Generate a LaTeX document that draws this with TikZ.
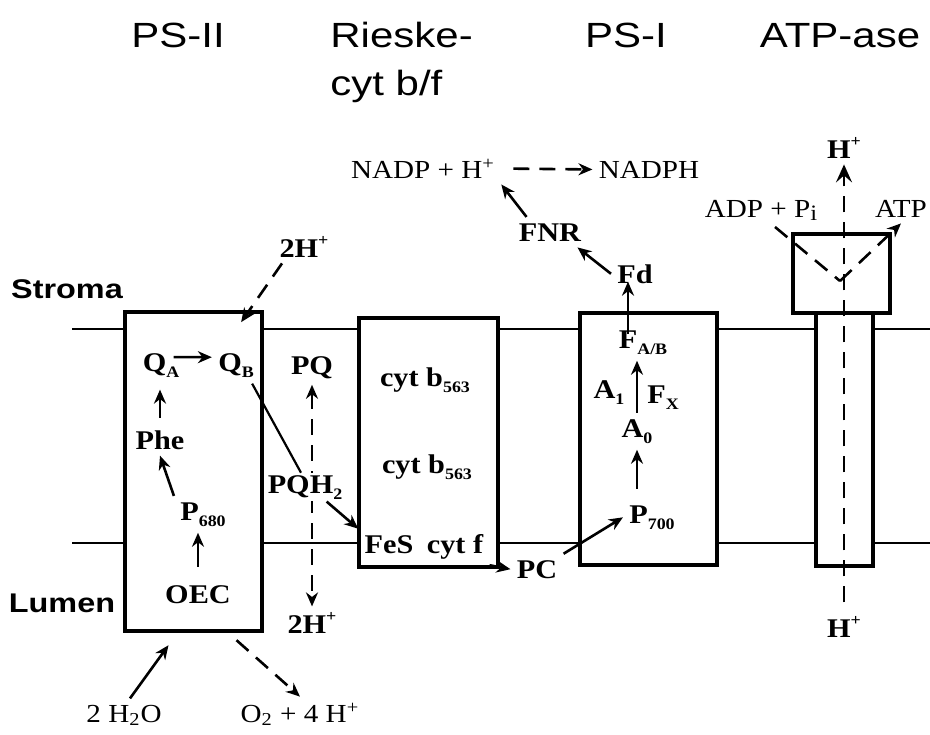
\documentclass[tikz,border=0pt]{standalone}
\usepackage{fontspec}
\setmainfont[FakeStretch=1.12]{Liberation Serif}
\newfontfamily\hdfont[FakeStretch=1.2]{Liberation Sans}
\usetikzlibrary{arrows.meta,positioning,calc}
\newcommand\lo[1]{\raisebox{-0.5ex}{\fontsize{8}{9}\selectfont#1}}
\newcommand\hi[1]{\raisebox{0.9ex}{\fontsize{8}{9}\selectfont#1}}

\begin{document}
\begin{tikzpicture}[x=0.5pt,y=-0.5pt]
  \tikzset{
    mem/.style={black, line width=1pt},
    cplx/.style={draw=black, fill=white, line width=2.2pt, inner sep=0pt},
    lbl/.style={font=\fontsize{13.5}{16}\selectfont\bfseries, inner sep=3pt, anchor=base},
    chem/.style={font=\fontsize{13}{15}\selectfont, inner sep=3pt, anchor=base},
    head/.style={font=\hdfont\fontsize{17.5}{20}\selectfont, inner sep=0pt, anchor=base},
    zone/.style={font=\hdfont\bfseries\fontsize{13.5}{16}\selectfont, inner sep=0pt, anchor=base},
    arr/.style={-{Stealth[length=7pt,width=6pt]}, line width=1.3pt},
    darr/.style={arr, dash pattern=on 8pt off 5pt},
    dline/.style={line width=1.3pt, dash pattern=on 8pt off 5pt},
    pline/.style={line width=1.1pt}
  }
  \useasboundingbox (0,0) rectangle (930,734);

  % membrane
  \coordinate (sl) at (72,329); \coordinate (sr) at (930,329);
  \coordinate (ll) at (72,543); \coordinate (lr) at (930,543);
  \draw[mem] (sl) -- (sr);
  \draw[mem] (ll) -- (lr);

  % complexes
  \node[cplx, minimum width=68.5pt, minimum height=159.5pt] (psii) at (193.5,471.5) {};
  \node[cplx, minimum width=69.5pt, minimum height=124.5pt] (cytbf) at (428.5,442.5) {};
  \node[cplx, minimum width=68.5pt, minimum height=126pt] (psi) at (648.5,439) {};
  \node[cplx, minimum width=28.5pt, minimum height=126.5pt] (fo) at (844.5,439.5) {};
  \node[cplx, minimum width=48.5pt, minimum height=39.5pt] (fone) at (841.5,273.5) {};

  % headings
  \node[head] (hps2) at (178,47) {PS-II};
  \node[head, anchor=base west] (hrieske) at (330,47) {Rieske-};
  \node[head, anchor=base west] (hcyt) at (330,95) {cyt b/f};
  \node[head] (hps1) at (626,47) {PS-I};
  \node[head] (hatp) at (840,47) {ATP-ase};
  \node[zone] (stroma) at (67,298) {Stroma};
  \node[zone] (lumen) at (62,612) {Lumen};

  % PS-II
  \node[lbl] (qa) at (161,371) {Q\lo{A}};
  \node[lbl] (qb) at (236,371) {Q\lo{B}};
  \node[lbl] (phe) at (160,449) {Phe};
  \node[lbl] (p680) at (203,520) {P\lo{680}};
  \node[lbl] (oec) at (198,603) {OEC};
  \node[lbl] (htop) at (304,257) {2H\hi{+}};
  \node[chem] (h2o) at (124,722) {2 H\textsubscript{2}O};
  \node[chem] (otwo) at (300,722) {O\textsubscript{2} + 4 H\textsuperscript{+}};

  % plastoquinone pool
  \node[lbl] (pq) at (312,374) {PQ};
  \node[lbl] (hbot) at (312,633) {2H\hi{+}};
  \draw[darr, {Stealth[length=7pt,width=6pt]}-{Stealth[length=7pt,width=6pt]}] (pq) -- (hbot);
  \node[lbl, fill=white, inner sep=1pt] (pqh) at (305,493) {PQH\lo{2}};

  % cyt b/f
  \node[lbl] (cb1) at (425,386) {cyt b\lo{563}};
  \node[lbl] (cb2) at (427,473) {cyt b\lo{563}};
  \node[lbl] (fes) at (389,553) {FeS};
  \node[lbl] (cytf) at (455,553) {cyt f};
  \node[lbl] (pc) at (537,578) {PC};

  % PS-I
  \node[lbl] (p700) at (652,523) {P\lo{700}};
  \node[lbl] (azero) at (637,437) {A\lo{0}};
  \node[lbl] (aone) at (609,398) {A\lo{1}};
  \node[lbl] (fx) at (663,403) {F\lo{X}};
  \node[lbl] (fab) at (643,348) {F\lo{A/B}};
  \node[lbl] (fd) at (635,283) {Fd};
  \node[lbl] (fnr) at (550,241) {FNR};
  \node[chem] (nadp) at (423,178) {NADP + H\textsuperscript{+}};
  \node[chem] (nadph) at (649,178) {NADPH};

  % ATP-ase
  \node[chem] (adp) at (761,217) {ADP + P\raisebox{-0.3ex}{\fontsize{11}{12}\selectfont i}};
  \node[chem] (atp) at (901,217) {ATP};
  \node[lbl] (hin) at (844,158) {H\hi{+}};
  \node[lbl] (hout) at (844,637) {H\hi{+}};
  \coordinate (cat) at (840,281);

  % electron path
  \draw[arr] ([xshift=-6pt,yshift=4pt]qa.east) -- ([yshift=4pt]qb.west);
  \draw[arr, shorten <=3pt, shorten >=3pt] (phe.north) -- (phe.north |- qa.south);
  \draw[arr] (p680.north west) -- (phe.south);
  \draw[arr, shorten <=6pt] (oec.north) -- (oec.north |- p680.south);
  \draw[darr, shorten >=15pt] ([xshift=-11pt]htop.south) -- ([xshift=-6pt]qb.north);
  \draw[pline] ([xshift=-4pt]qb.south east) -- ([xshift=-2pt]pqh.north);
  \draw[arr] ([xshift=-9pt]pqh.south east) -- (fes.north west);
  \draw[arr] (cytf.south east) -- (pc.west);
  \draw[arr] (pc.north east) -- (p700.west);
  \draw[arr, shorten <=5pt] (azero.south |- p700.north) -- (azero.south);
  \draw[arr] (azero.north) -- (azero.north |- fab.south);
  \coordinate (fdtail) at ([xshift=-7.5pt]fab.north);
  \draw[arr, shorten <=-5pt, shorten >=-4pt] (fdtail) -- (fdtail |- fd.south);
  \draw[arr] (fd.west) -- ([xshift=-5pt]fnr.south east);
  \draw[arr] ([xshift=7pt]fnr.north west) -- (nadp.south east);
  \draw[darr, shorten <=6pt] (nadp.east) -- (nadph.west);
  \draw[arr] ([xshift=3pt]h2o.north) -- ([shift={(-12.5pt,-6pt)}]psii.south);
  \draw[darr] ([shift={(21.5pt,-3.5pt)}]psii.south) -- (otwo.north);

  % proton channel
  \draw[darr, -{Stealth[length=9pt,width=8pt,inset=3.5pt]}, shorten <=4pt] (hout) -- (hin);
  \draw[dline] ([xshift=7pt]adp.south) -- (cat);
  \draw[darr] (cat) -- (atp.south);
\end{tikzpicture}
\end{document}
